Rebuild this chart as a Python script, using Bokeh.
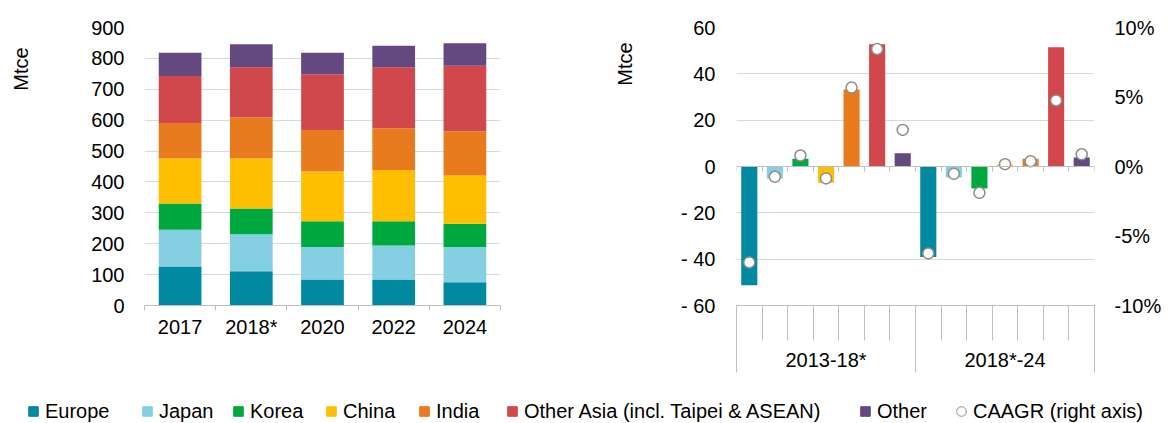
import numpy as np
from bokeh.plotting import figure
from bokeh.models import (ColumnDataSource, Range1d, FixedTicker, LinearAxis, Label,
                          Legend, LegendItem, PrintfTickFormatter, CustomJSTickFormatter)
from bokeh.layouts import column, row
from bokeh.embed import file_html
from bokeh.resources import INLINE

FONT = "Liberation Sans"
TXT = "#000000"
GRID = "#D9D9D9"
BOX = "#BFBFBF"

# ---------------- data ----------------
regions = ["Europe", "Japan", "Korea", "China", "India",
           "Other Asia (incl. Taipei & ASEAN)", "Other"]
region_keys = ["europe", "japan", "korea", "china", "india", "other_asia", "other"]
colors = ["#0089A0", "#84D0E2", "#00A840", "#FFBF00", "#E87B1E", "#D1484C", "#644980"]

years = ["2017", "2018*", "2020", "2022", "2024"]
europe = [126, 111, 84, 84, 75]
japan = [119, 120, 105, 110, 114]
korea = [85, 83, 84, 79, 76]
china = [146, 162, 161, 166, 156]
india = [115, 133, 134, 135, 143]
other_asia = [152, 162, 181, 197, 212]
other = [75, 75, 69, 70, 73]

periods = ["2013-18*", "2018*-24"]
change_2013_18 = [-51.3, -5.2, 3.3, -7.0, 33.2, 52.8, 5.7]
change_2018_24 = [-39.1, -4.7, -9.5, 0.9, 3.3, 51.5, 3.9]
caagr_2013_18 = [-6.9, -0.74, 0.79, -0.86, 5.68, 8.45, 2.63]
caagr_2018_24 = [-6.25, -0.53, -1.89, 0.17, 0.38, 4.75, 0.88]

TOP, BOTTOM = 27, 80
ROW_H = 385


def title_strip(x0, width, tx, ty):
    """narrow figure holding a rotated axis title; its ranges are in page pixels"""
    m = figure(width=width, height=ROW_H, x_range=Range1d(x0, x0 + width),
               y_range=Range1d(ROW_H - BOTTOM, TOP), output_backend="svg",
               toolbar_location=None, x_axis_location=None, y_axis_location=None,
               min_border_left=0, min_border_right=0, min_border_top=TOP,
               min_border_bottom=BOTTOM)
    m.outline_line_color = None
    m.grid.visible = False
    m.add_layout(Label(x=tx, y=ty, text="Mtce", angle=90, angle_units="deg",
                       text_align="center", text_baseline="middle",
                       text_font=FONT, text_font_size="20px", text_color=TXT))
    return m


# ---------------- left chart ----------------
nY = len(years)
src1 = ColumnDataSource(dict(x=np.arange(nY) + 0.5, europe=europe, japan=japan, korea=korea,
                             china=china, india=india, other_asia=other_asia, other=other))

p1 = figure(width=560, height=ROW_H, x_range=Range1d(0, nY), y_range=Range1d(0, 900),
            output_backend="svg", toolbar_location=None, x_axis_location=None,
            min_border_left=104, min_border_right=100, min_border_top=TOP,
            min_border_bottom=BOTTOM)
p1.outline_line_color = None
p1.vbar_stack(region_keys, x="x", width=0.6, fill_color=colors, line_color=None, source=src1)

p1.yaxis.ticker = FixedTicker(ticks=list(range(0, 901, 100)))
p1.yaxis.axis_line_color = None
p1.yaxis.major_tick_line_color = None
p1.yaxis.minor_tick_line_color = None
p1.yaxis.major_label_standoff = 14
p1.yaxis.major_label_text_font = FONT
p1.yaxis.major_label_text_font_size = "20px"
p1.yaxis.major_label_text_color = TXT
p1.ygrid.grid_line_color = GRID
p1.xgrid.visible = False

xax1 = LinearAxis(ticker=FixedTicker(ticks=list(np.arange(nY) + 0.5), minor_ticks=list(range(nY + 1))),
                  formatter=CustomJSTickFormatter(args=dict(labels=years),
                                                  code="return labels[Math.floor(tick)]"),
                  major_tick_out=0, major_tick_in=0, major_tick_line_color=None,
                  minor_tick_out=5, minor_tick_in=0, minor_tick_line_color=BOX,
                  axis_line_color=BOX, major_label_standoff=5,
                  major_label_text_font=FONT, major_label_text_font_size="20px",
                  major_label_text_color=TXT)
p1.add_layout(xax1, "below")

# ---------------- right chart ----------------
nR = len(regions)
changes = change_2013_18 + change_2018_24
caagr = caagr_2013_18 + caagr_2018_24
src2 = ColumnDataSource(dict(x=np.arange(2 * nR) + 0.5, change=changes, caagr=caagr,
                             color=colors * 2))

p2 = figure(width=528, height=ROW_H, x_range=Range1d(0, 2 * nR), y_range=Range1d(-60, 60),
            output_backend="svg", toolbar_location=None, x_axis_location=None,
            min_border_left=96, min_border_right=74, min_border_top=TOP,
            min_border_bottom=BOTTOM)
p2.outline_line_color = None
p2.extra_y_ranges = {"pct": Range1d(-10, 10)}
p2.vbar(x="x", top="change", bottom=0, width=0.63, fill_color="color", line_color=None, source=src2)

p2.yaxis.ticker = FixedTicker(ticks=list(range(-60, 61, 20)))
p2.yaxis.formatter = CustomJSTickFormatter(code="return tick < 0 ? '- ' + Math.abs(tick) : String(tick)")
p2.yaxis.axis_line_color = None
p2.yaxis.major_tick_line_color = None
p2.yaxis.minor_tick_line_color = None
p2.yaxis.major_label_standoff = 15
p2.yaxis.major_label_text_font = FONT
p2.yaxis.major_label_text_font_size = "20px"
p2.yaxis.major_label_text_color = TXT
p2.ygrid.grid_line_color = GRID
p2.xgrid.visible = False

rax = LinearAxis(y_range_name="pct", ticker=FixedTicker(ticks=[-10, -5, 0, 5, 10]),
                 formatter=PrintfTickFormatter(format="%d%%"),
                 axis_line_color=None, major_tick_line_color=None, minor_tick_line_color=None,
                 major_label_standoff=14, major_label_text_font=FONT,
                 major_label_text_font_size="20px", major_label_text_color=TXT)
p2.add_layout(rax, "right")

blank = CustomJSTickFormatter(code="return ''")
# category box below the plot: long group separators (major) + short separators (minor)
axA = LinearAxis(ticker=FixedTicker(ticks=[0, nR, 2 * nR], minor_ticks=list(range(2 * nR + 1))),
                 formatter=blank,
                 major_tick_out=67, major_tick_in=0, major_tick_line_color=BOX,
                 minor_tick_out=35, minor_tick_in=0, minor_tick_line_color=BOX,
                 axis_line_color=BOX, major_label_standoff=0, major_label_text_font_size="1px")
# period labels, pulled up into the box
axB = LinearAxis(ticker=FixedTicker(ticks=[nR / 2, nR + nR / 2]),
                 formatter=CustomJSTickFormatter(args=dict(labels=periods, n=nR),
                                                 code="return labels[Math.floor(tick / n)]"),
                 major_tick_out=0, major_tick_in=0, major_tick_line_color=None,
                 minor_tick_line_color=None, axis_line_color=None, major_label_standoff=-24,
                 major_label_text_font=FONT, major_label_text_font_size="20px",
                 major_label_text_color=TXT)
# zero line with category ticks
ax0 = LinearAxis(fixed_location=0, ticker=FixedTicker(ticks=list(range(2 * nR + 1))), formatter=blank,
                 major_tick_out=5, major_tick_in=0, major_tick_line_color=BOX,
                 minor_tick_line_color=None, axis_line_color=BOX,
                 major_label_standoff=0, major_label_text_font_size="1px")
p2.add_layout(axA, "below")
p2.add_layout(axB, "below")
p2.add_layout(ax0, "below")

p2.scatter(x="x", y="caagr", y_range_name="pct", source=src2, marker="circle", size=11,
           fill_color="white", line_color="#8C8C8C", line_width=1.5)

m1 = title_strip(0, 40, 20.5, 68.5)
m2 = title_strip(600, 40, 624, 63.5)

# ---------------- legend strip ----------------
p3 = figure(width=1168, height=38, x_range=Range1d(0, 1), y_range=Range1d(0, 1),
            output_backend="svg", toolbar_location=None, x_axis_location=None,
            y_axis_location=None, min_border=0)
p3.outline_line_color = None
p3.grid.visible = False

legend_x = [21, 135, 226, 319, 412, 500, 853, 949]
entries = []
for name, c in zip(regions, colors):
    r = p3.scatter(x=[np.nan], y=[np.nan], marker="square", size=10, fill_color=c, line_color=c)
    entries.append((name, r))
rc = p3.scatter(x=[np.nan], y=[np.nan], marker="circle", size=10, fill_color="white",
                line_color="#8C8C8C", line_width=1)
entries.append(("CAAGR (right axis)", rc))

for (name, r), lx in zip(entries, legend_x):
    leg = Legend(items=[LegendItem(label=name, renderers=[r])], location=(lx, 0),
                 orientation="horizontal", padding=0, margin=0, spacing=0,
                 glyph_width=24, glyph_height=24, label_standoff=0,
                 background_fill_alpha=0, border_line_alpha=0,
                 label_text_font=FONT, label_text_font_size="20px", label_text_color=TXT)
    p3.add_layout(leg)

layout = column(row(m1, p1, m2, p2), p3)
open("out.html", "w").write(file_html(layout, INLINE))
